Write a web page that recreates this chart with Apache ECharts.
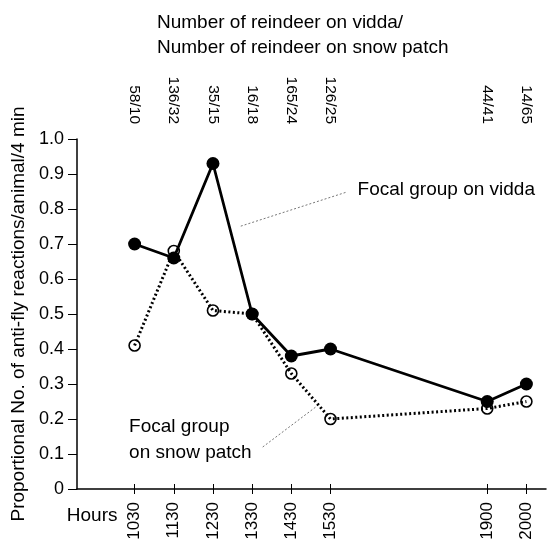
<!DOCTYPE html>
<html><head><meta charset="utf-8">
<script src="https://cdn.jsdelivr.net/npm/echarts@6/dist/echarts.min.js"></script>
<style>html,body{margin:0;padding:0;background:#fff}#c{width:553px;height:543px}</style>
</head><body><div id="c"></div>
<script>
// ---- data ----
const hours = ['1030','1130','1230','1330','1430','1530','1900','2000'];
const hourPos = [0, 1, 2, 3, 4, 5, 9, 10];
const reindeerCounts = ['58/10','136/32','35/15','16/18','165/24','126/25','44/41','14/65'];
const viddaValues = [0.70, 0.66, 0.93, 0.50, 0.38, 0.40, 0.25, 0.30];
const snowValues  = [0.41, 0.68, 0.51, 0.50, 0.33, 0.20, 0.23, 0.25];
const yTickValues = [0, 0.1, 0.2, 0.3, 0.4, 0.5, 0.6, 0.7, 0.8, 0.9, 1.0];

const FONT = "'Liberation Sans', Arial, Helvetica, sans-serif";
const xMin = -1.47, xMax = 10.5;

const viddaData = hourPos.map((p, i) => [p, viddaValues[i]]);
const snowData = hourPos.map((p, i) => [p, snowValues[i]]);
const labelAt = (arr) => (v) => { const i = hourPos.indexOf(Math.round(v * 1000) / 1000); return i >= 0 ? arr[i] : ''; };

const chart = echarts.init(document.getElementById('c'), null, {renderer: 'canvas'});
const option = {
  animation: false,
  backgroundColor: '#fff',
  textStyle: {fontFamily: FONT, color: '#000'},
  title: {
    text: 'Number of reindeer on vidda/\nNumber of reindeer on snow patch',
    left: 152, top: 5,
    textStyle: {fontFamily: FONT, fontSize: 19, fontWeight: 'normal', color: '#000', lineHeight: 25}
  },
  grid: {left: 77, top: 139, width: 469, height: 350, containLabel: false},
  xAxis: [
    {
      type: 'value', position: 'bottom', min: xMin, max: xMax,
      axisLine: {show: true, onZero: false, lineStyle: {color: '#000', width: 1.5}},
      axisTick: {show: true, length: 5, inside: false, customValues: hourPos, lineStyle: {color: '#000', width: 1}},
      axisLabel: {show: true, rotate: 90, margin: 13, fontSize: 17, fontFamily: FONT, color: '#000',
        customValues: hourPos, formatter: labelAt(hours)},
      splitLine: {show: false}
    },
    {
      type: 'value', position: 'bottom', min: xMin, max: xMax,
      axisLine: {show: false, onZero: false},
      axisTick: {show: true, length: 5, inside: true, customValues: hourPos, lineStyle: {color: '#000', width: 1}},
      axisLabel: {show: false},
      splitLine: {show: false}
    },
    {
      type: 'value', position: 'top', min: xMin, max: xMax,
      axisLine: {show: false, onZero: false},
      axisTick: {show: false},
      axisLabel: {show: true, rotate: 90, margin: 15, fontSize: 15.5, fontFamily: FONT, color: '#000',
        customValues: hourPos, formatter: labelAt(reindeerCounts)},
      splitLine: {show: false}
    }
  ],
  yAxis: {
    type: 'value', min: 0, max: 1, interval: 0.1,
    name: 'Proportional No. of anti-fly reactions/animal/4 min',
    nameLocation: 'middle', nameGap: 48, nameRotate: 90,
    nameTextStyle: {fontFamily: FONT, fontSize: 19, color: '#000'},
    axisLine: {show: true, onZero: false, lineStyle: {color: '#000', width: 1.5}},
    axisTick: {show: true, length: 9, inside: false, lineStyle: {color: '#000', width: 1}},
    axisLabel: {margin: 13, fontSize: 18, fontFamily: FONT, color: '#000',
      formatter: (v) => v === 0 ? '0' : v.toFixed(1)},
    splitLine: {show: false}
  },
  series: [
    {
      name: 'Focal group on snow patch', type: 'line', xAxisIndex: 0, yAxisIndex: 0,
      data: snowData, symbol: 'circle', symbolSize: 11, showSymbol: true,
      lineStyle: {color: '#000', width: 3, type: [2, 2.5]},
      itemStyle: {color: 'rgba(255,255,255,0)', borderColor: '#000', borderWidth: 1.6},
      z: 2
    },
    {
      name: 'Focal group on vidda', type: 'line', xAxisIndex: 0, yAxisIndex: 0,
      data: viddaData, symbol: 'circle', symbolSize: 13,
      lineStyle: {color: '#000', width: 2.8},
      itemStyle: {color: '#000', borderColor: '#000', borderWidth: 0},
      z: 3
    }
  ]
};
chart.setOption(option);

// annotation anchors (data units)
const viddaLeader = [[2.71, 0.751], [5.43, 0.849]];
const viddaTextAt = [5.69, 0.854];
const snowLeader = [[3.27, 0.12], [4.62, 0.234]];
const snowTextAt = [-0.14, 0.14];
const hoursTextAt = [-1.73, -0.076];

const P = (pt) => chart.convertToPixel({xAxisIndex: 0, yAxisIndex: 0}, pt);
const leaderStyle = {stroke: '#777', lineWidth: 1, lineDash: [2, 2]};
const vl0 = P(viddaLeader[0]), vl1 = P(viddaLeader[1]);
const sl0 = P(snowLeader[0]), sl1 = P(snowLeader[1]);
const vt = P(viddaTextAt), st = P(snowTextAt), ht = P(hoursTextAt);
chart.setOption({
  graphic: [
    {type: 'line', shape: {x1: vl0[0], y1: vl0[1], x2: vl1[0], y2: vl1[1]}, style: leaderStyle, silent: true},
    {type: 'line', shape: {x1: sl0[0], y1: sl0[1], x2: sl1[0], y2: sl1[1]}, style: leaderStyle, silent: true},
    {type: 'text', x: vt[0], y: vt[1], style: {text: 'Focal group on vidda', font: '19px ' + FONT, fill: '#000', textAlign: 'left', textVerticalAlign: 'middle'}},
    {type: 'text', x: st[0], y: st[1], style: {text: 'Focal group\non snow patch', font: '19px ' + FONT, lineHeight: 26, fill: '#000', textAlign: 'left', textVerticalAlign: 'middle'}},
    {type: 'text', x: ht[0], y: ht[1], style: {text: 'Hours', font: '19px ' + FONT, fill: '#000', textAlign: 'left', textVerticalAlign: 'middle'}}
  ]
});
</script>
</body></html>
